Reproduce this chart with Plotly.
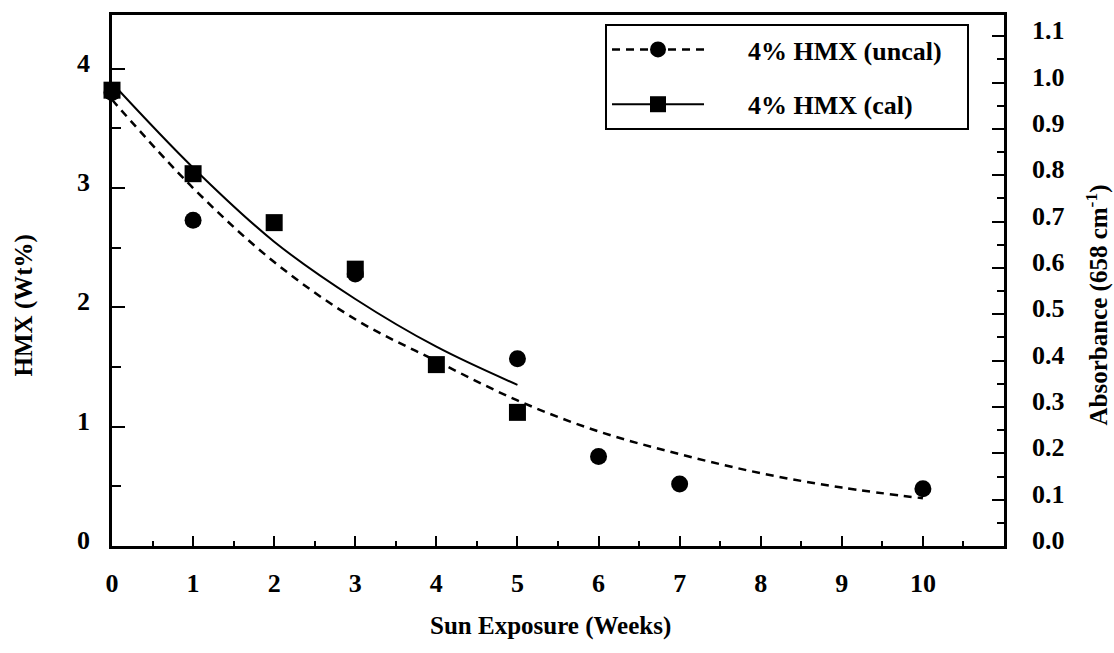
import plotly.graph_objects as go

# ---- data ----
weeks_uncal = [0, 1, 3, 5, 6, 7, 10]
hmx_uncal = [3.80, 2.73, 2.28, 1.57, 0.75, 0.52, 0.48]

weeks_cal = [0, 1, 2, 3, 4, 5]
hmx_cal = [3.82, 3.12, 2.71, 2.32, 1.52, 1.12]

fit_weeks_uncal = [0, 1, 2, 3, 4, 5, 6, 7, 8, 9, 10]
fit_uncal = [3.74, 3.00, 2.38, 1.90, 1.55, 1.22, 0.96, 0.77, 0.61, 0.49, 0.40]

fit_weeks_cal = [0, 1, 2, 3, 4, 5]
fit_cal = [3.88, 3.17, 2.55, 2.07, 1.67, 1.35]

x_tick_vals = [0, 1, 2, 3, 4, 5, 6, 7, 8, 9, 10]
y_tick_vals = [0, 1, 2, 3, 4]
abs_tick_vals = [0.0, 0.1, 0.2, 0.3, 0.4, 0.5, 0.6, 0.7, 0.8, 0.9, 1.0, 1.1]

names = ["4% HMX (uncal)", "4% HMX (cal)"]

FONT = "Liberation Serif"
BLACK = "#000000"
NB = "\u00a0"

fig = go.Figure()

# fitted curves
fig.add_trace(go.Scatter(x=fit_weeks_uncal, y=fit_uncal, mode="lines",
                         line=dict(color=BLACK, width=2.5, dash="8px,6px", shape="spline"),
                         showlegend=False, hoverinfo="skip", cliponaxis=False))
fig.add_trace(go.Scatter(x=fit_weeks_cal, y=fit_cal, mode="lines",
                         line=dict(color=BLACK, width=2, shape="spline"),
                         showlegend=False, hoverinfo="skip", cliponaxis=False))
# measured points
fig.add_trace(go.Scatter(x=weeks_uncal, y=hmx_uncal, mode="markers",
                         marker=dict(symbol="circle", size=17, color=BLACK),
                         showlegend=False, cliponaxis=False))
fig.add_trace(go.Scatter(x=weeks_cal, y=hmx_cal, mode="markers",
                         marker=dict(symbol="square", size=17, color=BLACK),
                         showlegend=False, cliponaxis=False))
# legend entries
fig.add_trace(go.Scatter(x=[None], y=[None], mode="lines+markers",
                         name=NB * 6 + names[0] + NB * 3, legendgroup="a",
                         line=dict(color=BLACK, width=2.5, dash="8px,6px"),
                         marker=dict(symbol="circle", size=17, color=BLACK)))
fig.add_trace(go.Scatter(x=[None], y=[None], mode="lines+markers",
                         name=NB * 6 + names[1] + NB * 3, legendgroup="b",
                         line=dict(color=BLACK, width=2),
                         marker=dict(symbol="square", size=17, color=BLACK)))
# secondary axis anchor trace
fig.add_trace(go.Scatter(x=[None], y=[None], yaxis="y2", showlegend=False, hoverinfo="skip"))

tickfont = dict(family=FONT, size=26, color=BLACK, weight="bold")
titlefont = dict(family=FONT, size=25, color=BLACK, weight="bold")

fig.update_layout(
    width=1114, height=653,
    margin=dict(l=112, r=110, t=12, b=107),
    paper_bgcolor="white", plot_bgcolor="white",
    font=dict(family=FONT, size=24, color=BLACK, weight="bold"),
    xaxis=dict(range=[0, 11], tickvals=x_tick_vals, ticks="inside", ticklen=10, tickwidth=2,
               tickcolor=BLACK, showline=True, linewidth=2.5, linecolor=BLACK, mirror=True,
               showgrid=False, zeroline=False, tickfont=tickfont, ticklabelstandoff=12,
               minor=dict(dtick=0.5, ticks="inside", ticklen=5, tickwidth=1.5, tickcolor=BLACK)),
    yaxis=dict(range=[0, 4.45], tickvals=y_tick_vals, ticks="inside", ticklen=13, tickwidth=2,
               tickcolor=BLACK, showline=True, linewidth=2.5, linecolor=BLACK,
               showgrid=False, zeroline=False, tickfont=tickfont, ticklabelstandoff=14,
               ticklabelshift=-6,
               minor=dict(dtick=0.5, ticks="inside", ticklen=9, tickwidth=1.5, tickcolor=BLACK)),
    yaxis2=dict(range=[0, 1.146], overlaying="y", side="right", tickvals=abs_tick_vals,
                tickformat=".1f", ticks="inside", ticklen=12, tickwidth=2, tickcolor=BLACK,
                showline=True, linewidth=2.5, linecolor=BLACK, showgrid=False, zeroline=False,
                tickfont=tickfont, ticklabelstandoff=20, ticklabelshift=-6,
                minor=dict(dtick=0.05, ticks="inside", ticklen=7, tickwidth=1.5, tickcolor=BLACK)),
    legend=dict(x=0.5527, y=0.983, xanchor="left", yanchor="top",
                bgcolor="white", bordercolor=BLACK, borderwidth=2,
                itemwidth=92, tracegroupgap=18,
                font=dict(family=FONT, size=26, color=BLACK, weight="bold")),
    annotations=[
        dict(text="HMX (Wt%)", xref="paper", yref="paper", x=0, y=0.453,
             xshift=-88, textangle=-90, showarrow=False, xanchor="center", yanchor="middle",
             font=titlefont),
        dict(text="Absorbance (658 cm<sup>-1</sup>)", xref="paper", yref="paper", x=1, y=0.453,
             xshift=93, textangle=-90, showarrow=False, xanchor="center", yanchor="middle",
             font=titlefont),
        dict(text="Sun Exposure (Weeks)", xref="paper", yref="paper", x=0.5, y=0,
             yshift=-80, xshift=-8, showarrow=False, xanchor="center", yanchor="middle",
             font=titlefont),
    ],
)

fig.write_html("out.html", config={"displayModeBar": False},
               post_script="document.body.style.margin='0';document.body.style.overflow='hidden';")
